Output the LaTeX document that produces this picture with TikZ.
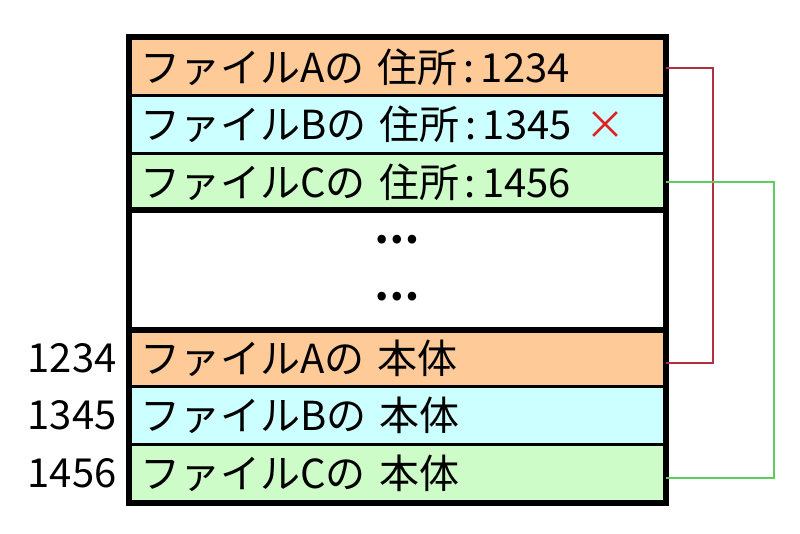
\documentclass[tikz,border=0pt]{standalone}
\usepackage{fontspec}
\newfontfamily\jpfont{Noto Sans CJK JP}
\usetikzlibrary{positioning}
\definecolor{addrOrange}{RGB}{253,202,152}
\definecolor{addrBlue}{RGB}{204,255,255}
\definecolor{addrGreen}{RGB}{206,252,200}
\definecolor{linkRed}{RGB}{176,48,64}
\definecolor{linkGreen}{RGB}{96,204,96}
\definecolor{crossRed}{RGB}{222,34,34}

\begin{document}
\begin{tikzpicture}
[x=0.75pt,y=-0.75pt,
  cellBox/.style={shape=rectangle,draw=black,line width=1.8pt,minimum width=401.25pt,
    minimum height=43.3pt,text width=386pt,inner xsep=7.5pt,inner ysep=0pt,align=left,
    font=\jpfont\fontsize{30}{30}\selectfont},%
  frameLine/.style={line width=4.5pt},%
  addrNum/.style={inner sep=0pt,font=\jpfont\fontsize{30}{30}\selectfont},%
  dotsText/.style={inner sep=0pt,font=\jpfont\bfseries\fontsize{30}{30}\selectfont},%
  redLink/.style={-,line width=1.6pt,color=linkRed},%
  greenLink/.style={-,line width=1.6pt,color=linkGreen}]
\useasboundingbox (0,0) rectangle (800,534);
%% the rows of the table
\foreach \nodename/\y/\col/\txt in {addrA/66.85/addrOrange/{ファイルAの 住所\kern4pt:\kern5pt1234},
  addrB/124.55/addrBlue/{ファイルBの 住所\kern4pt:\kern5pt1345 \textcolor{crossRed}{×}},
  addrC/182.25/addrGreen/{ファイルCの 住所\kern4pt:\kern5pt1456},
  bodyA/357.85/addrOrange/{ファイルAの 本体},
  bodyB/415.55/addrBlue/{ファイルBの 本体},
  bodyC/473.25/addrGreen/{ファイルCの 本体}}
{
  \node (\nodename) at (397.5,\y) [cellBox,fill=\col] {\txt};
}
\node (gap) at (397.5,270.05) [cellBox,fill=white,minimum height=88.4pt] {};
\node (dotsA) at (397,240) [dotsText] {…};
\node (dotsB) at (397,297) [dotsText] {…};
%% the thick frame
\draw[frameLine] (addrA.north west) rectangle (bodyC.south east);
\draw[frameLine] (gap.north west) -- (gap.north east);
\draw[frameLine] (gap.south west) -- (gap.south east);
%% the addresses on the left
\foreach \numname/\body/\addr in {numA/bodyA/1234, numB/bodyB/1345, numC/bodyC/1456}
{
  \node (\numname) [addrNum,left=9pt of \body] {\addr};
}
%% the links
\draw[redLink] ([yshift=-1pt]addrA.east) -- ++(47,0) |- ([yshift=-4pt]bodyA.east);
\draw[greenLink] (addrC.east) -- ++(108,0) |- ([yshift=-3.5pt]bodyC.east);
\end{tikzpicture}
\end{document}
